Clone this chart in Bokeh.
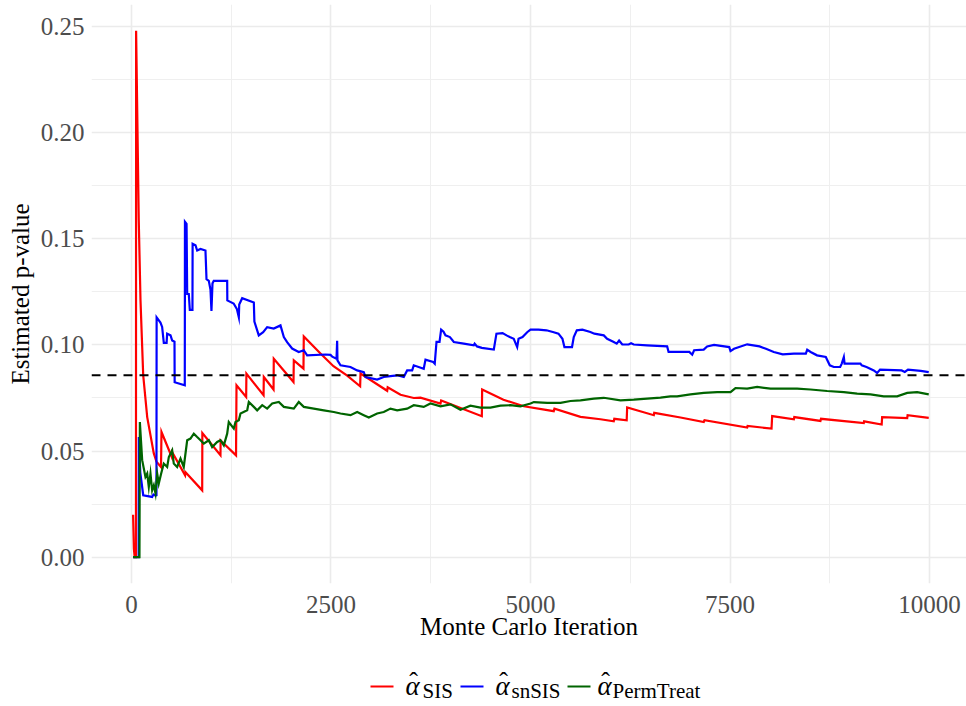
from bokeh.plotting import figure
from bokeh.models import Range1d, FixedTicker, NumeralTickFormatter, Span, Label
from bokeh.layouts import column
from bokeh.embed import file_html
from bokeh.resources import INLINE

# ---------------- data ----------------
sis_iter = [20, 30, 40, 56, 58, 91, 113, 147, 197, 279, 313, 370, 376, 505, 510, 672, 677, 886, 888,
            1115, 1117, 1310, 1316, 1437, 1440, 1655, 1658, 1780, 1783, 2030, 2034, 2155, 2159,
            2368, 2531, 2703, 2865, 2870, 3204, 3210, 3371, 3537, 3621, 3872, 3880, 4390, 4394,
            4661, 4916, 5291, 5300, 5626, 5876, 6043, 6050, 6205, 6211, 6545, 6550, 6879, 7171,
            7180, 7715, 7720, 8020, 8028, 8300, 8305, 8633, 8640, 9176, 9180, 9400, 9406, 9720,
            9725, 9990]
sis_val = [0.020, 0.004, 0.0, 0.0, 0.248, 0.159, 0.121, 0.0857, 0.066, 0.049, 0.045, 0.0425, 0.059,
           0.0472, 0.0495, 0.0386, 0.040, 0.0315, 0.0585, 0.048, 0.055, 0.048, 0.081, 0.0755, 0.0865,
           0.0763, 0.0849, 0.079, 0.0935, 0.0825, 0.0927, 0.0888, 0.104, 0.096, 0.090, 0.0855, 0.0805,
           0.0865, 0.0784, 0.0800, 0.0765, 0.0750, 0.0752, 0.0724, 0.0738, 0.0664, 0.079, 0.0742,
           0.0711, 0.0688, 0.0700, 0.0661, 0.0650, 0.0640, 0.0652, 0.0645, 0.0705, 0.0669, 0.0680,
           0.0658, 0.0637, 0.0645, 0.0611, 0.0618, 0.0606, 0.0665, 0.0650, 0.0660, 0.0642, 0.0652,
           0.0632, 0.0640, 0.0625, 0.0660, 0.0655, 0.0669, 0.0656]

snsis_iter = [20, 90, 92, 110, 147, 259, 275, 300, 313, 315, 363, 384, 405, 440, 447, 489, 510, 539,
              541, 593, 668, 670, 690, 698, 718, 731, 764, 766, 802, 823, 865, 927, 940, 969, 990,
              1002, 1015, 1031, 1199, 1201, 1280, 1320, 1345, 1350, 1387, 1533, 1540, 1595, 1650,
              1700, 1783, 1867, 1909, 1950, 2013, 2096, 2159, 2201, 2431, 2494, 2515, 2569, 2577,
              2581, 2619, 2744, 2828, 2911, 2932, 3078, 3161, 3245, 3329, 3412, 3454, 3517, 3537,
              3662, 3684, 3780, 3800, 3822, 3860, 3880, 3910, 3934, 3990, 4039, 4164, 4289, 4300,
              4330, 4390, 4540, 4573, 4650, 4700, 4740, 4790, 4833, 4850, 4900, 4958, 5000, 5100,
              5200, 5291, 5350, 5400, 5425, 5520, 5542, 5580, 5650, 5750, 5800, 5918, 5960, 6043,
              6080, 6110, 6150, 6230, 6260, 6294, 6460, 6712, 6730, 6879, 6990, 7026, 7050, 7170,
              7213, 7300, 7490, 7506, 7550, 7715, 7870, 7950, 8048, 8160, 8300, 8450, 8467, 8510,
              8590, 8700, 8750, 8800, 8880, 8900, 8926, 8935, 9134, 9150, 9210, 9301, 9343, 9380,
              9650, 9690, 9730, 9890, 9990]
snsis_val = [0.0, 0.0, 0.0566, 0.040, 0.0292, 0.0284, 0.0295, 0.029, 0.0292, 0.113, 0.1105, 0.1085,
             0.101, 0.101, 0.1053, 0.1045, 0.1021, 0.1015, 0.0824, 0.0818, 0.081, 0.158, 0.157, 0.124,
             0.124, 0.1165, 0.1165, 0.1477, 0.147, 0.1445, 0.1452, 0.1445, 0.131, 0.1302, 0.126,
             0.116, 0.129, 0.1302, 0.1302, 0.121, 0.1195, 0.117, 0.113, 0.119, 0.122, 0.120, 0.111,
             0.1045, 0.106, 0.1084, 0.1077, 0.1092, 0.1037, 0.1013, 0.0983, 0.0967, 0.0975, 0.0951,
             0.0955, 0.0953, 0.0945, 0.0935, 0.102, 0.0927, 0.0904, 0.0896, 0.088, 0.0872, 0.0849,
             0.0837, 0.0849, 0.0853, 0.0857, 0.0849, 0.088, 0.088, 0.0904, 0.0888, 0.0931, 0.092,
             0.0912, 0.1014, 0.1014, 0.1072, 0.1062, 0.1045, 0.1037, 0.1014, 0.1006, 0.0998, 0.1006,
             0.0993, 0.0986, 0.0978, 0.1053, 0.1056, 0.1045, 0.1037, 0.1029, 0.099, 0.1029, 0.1037,
             0.106, 0.1072, 0.1072, 0.1069, 0.106, 0.1053, 0.1029, 0.099, 0.099, 0.1037, 0.1069,
             0.1072, 0.1061, 0.1053, 0.1045, 0.1029, 0.1014, 0.1006, 0.1021, 0.1002, 0.1002, 0.1008,
             0.1002, 0.0998, 0.0993, 0.0967, 0.0967, 0.0967, 0.0954, 0.0975, 0.0978, 0.0993, 0.100,
             0.099, 0.0971, 0.0982, 0.1003, 0.0993, 0.0982, 0.0967, 0.0956, 0.0959, 0.0959, 0.0978,
             0.0967, 0.0951, 0.0943, 0.0904, 0.0896, 0.0896, 0.0912, 0.0943, 0.0912, 0.0912, 0.0904,
             0.0896, 0.088, 0.0868, 0.0884, 0.088, 0.0873, 0.0884, 0.0878, 0.0872]

perm_iter = [20, 100, 105, 134, 175, 197, 217, 238, 259, 280, 301, 322, 342, 372, 405, 447, 468, 510,
             530, 572, 614, 655, 698, 739, 781, 823, 865, 906, 969, 1011, 1074, 1115, 1157, 1199,
             1219, 1282, 1303, 1345, 1366, 1450, 1470, 1533, 1575, 1638, 1700, 1763, 1846, 1909,
             2034, 2096, 2159, 2284, 2410, 2535, 2619, 2744, 2828, 2911, 2974, 3078, 3161, 3245,
             3329, 3454, 3537, 3662, 3746, 3872, 3997, 4122, 4247, 4373, 4498, 4623, 4749, 4874,
             5000, 5042, 5209, 5376, 5501, 5626, 5793, 5918, 6127, 6294, 6461, 6628, 6753, 6837,
             7004, 7171, 7339, 7506, 7568, 7715, 7840, 8007, 8174, 8341, 8508, 8717, 8926, 9093,
             9260, 9426, 9594, 9720, 9845, 9990]
perm_val = [0.0, 0.0, 0.0637, 0.0457, 0.0378, 0.0394, 0.0331, 0.0394, 0.0315, 0.0339, 0.030, 0.0394,
            0.0347, 0.0394, 0.0441, 0.0425, 0.0472, 0.0504, 0.0441, 0.0425, 0.0465, 0.0425, 0.0551,
            0.0559, 0.0582, 0.0566, 0.0551, 0.0535, 0.0551, 0.0519, 0.0543, 0.0551, 0.0527, 0.0582,
            0.0637, 0.0606, 0.0637, 0.0645, 0.0677, 0.0692, 0.0731, 0.0708, 0.0692, 0.0716, 0.070,
            0.0724, 0.0731, 0.0708, 0.070, 0.0731, 0.0708, 0.070, 0.0692, 0.0684, 0.0677, 0.0669,
            0.0684, 0.0669, 0.0658, 0.0677, 0.0684, 0.070, 0.0692, 0.070, 0.0716, 0.0708, 0.0724,
            0.0711, 0.072, 0.0695, 0.0714, 0.0705, 0.0705, 0.0714, 0.0716, 0.0711, 0.0724, 0.0731,
            0.0727, 0.0727, 0.0736, 0.0739, 0.0747, 0.0751, 0.0739, 0.0742, 0.0747, 0.0752, 0.0758,
            0.0758, 0.0767, 0.0774, 0.0778, 0.0778, 0.0797, 0.0794, 0.0802, 0.0794, 0.0794, 0.0794,
            0.079, 0.0783, 0.0778, 0.0771, 0.0767, 0.0758, 0.0758, 0.0774, 0.0778, 0.0767]

true_p = 0.0857
x_ticks = [0, 2500, 5000, 7500, 10000]
x_minor = [1250, 3750, 6250, 8750]
y_ticks = [0.00, 0.05, 0.10, 0.15, 0.20, 0.25]
y_minor = [0.025, 0.075, 0.125, 0.175, 0.225]
series_names = ["SIS", "snSIS", "PermTreat"]
series_colors = ["#FF0000", "#0000FF", "#006400"]

# ---------------- main figure ----------------
W = 966
FRAME_LEFT = 91
p = figure(width=W, height=650, output_backend="svg", toolbar_location=None,
           x_range=Range1d(-501, 10463), y_range=Range1d(-0.0124, 0.2604),
           min_border_left=FRAME_LEFT, min_border_right=0, min_border_top=4, min_border_bottom=67)
p.outline_line_color = None
p.background_fill_color = "white"

for xs, ys, c in zip([sis_iter, snsis_iter, perm_iter], [sis_val, snsis_val, perm_val], series_colors):
    p.line(x=xs, y=ys, line_color=c, line_width=2.2, line_join="miter")

p.add_layout(Span(location=true_p, dimension="width", line_color="black",
                  line_dash="9 7", line_width=2))

p.xaxis.ticker = FixedTicker(ticks=x_ticks, minor_ticks=x_minor)
p.yaxis.ticker = FixedTicker(ticks=y_ticks, minor_ticks=y_minor)
p.xaxis.formatter = NumeralTickFormatter(format="0")
p.yaxis.formatter = NumeralTickFormatter(format="0.00")

for ax in (p.xaxis, p.yaxis):
    ax.axis_line_color = None
    ax.major_tick_line_color = None
    ax.minor_tick_line_color = None
    ax.major_tick_out = 0
    ax.major_tick_in = 0
    ax.minor_tick_out = 0
    ax.major_label_text_font = "Liberation Serif"
    ax.major_label_text_font_size = "25px"
    ax.major_label_text_color = "#4D4D4D"
    ax.axis_label_text_font = "Liberation Serif"
    ax.axis_label_text_font_size = "25px"
    ax.axis_label_text_font_style = "normal"
    ax.axis_label_text_color = "black"

p.xaxis.axis_label = "Monte Carlo Iteration"
p.yaxis.axis_label = "Estimated p-value"
p.xaxis.major_label_standoff = 12
p.yaxis.major_label_standoff = 7
p.xaxis.axis_label_standoff = -3
p.yaxis.axis_label_standoff = 4

p.xgrid.grid_line_color = "#EBEBEB"
p.ygrid.grid_line_color = "#EBEBEB"
p.xgrid.grid_line_width = 1.6
p.ygrid.grid_line_width = 1.6
p.xgrid.minor_grid_line_color = "#EFEFEF"
p.ygrid.minor_grid_line_color = "#EFEFEF"
p.xgrid.minor_grid_line_width = 1.0
p.ygrid.minor_grid_line_width = 1.0

# ---------------- legend strip (below); its x axis is page pixels ----------------
LH = 56
lg = figure(width=W, height=LH, output_backend="svg", toolbar_location=None,
            x_range=Range1d(FRAME_LEFT, W), y_range=Range1d(0, LH),
            min_border_left=FRAME_LEFT, min_border_right=0, min_border_top=0, min_border_bottom=0)
lg.outline_line_color = None
lg.grid.visible = False
lg.xaxis.visible = False
lg.yaxis.visible = False

key_x0 = [370, 460, 567]
alpha_x = [405, 495, 597]
sub_x = [422, 511, 612]
for x0, c in zip(key_x0, series_colors):
    lg.line(x=[x0, x0 + 23], y=[20, 20], line_color=c, line_width=2.2)
for i, nm in enumerate(series_names):
    lg.add_layout(Label(x=alpha_x[i], y=21, text="\u03b1", text_font="Liberation Serif",
                        text_font_style="italic", text_font_size="27px", text_color="black",
                        text_baseline="middle", text_align="left"))
    lg.add_layout(Label(x=alpha_x[i] + 8, y=25, text="\u02c6", text_font="Liberation Serif",
                        text_font_size="26px", text_color="black",
                        text_baseline="middle", text_align="center"))
    lg.add_layout(Label(x=sub_x[i], y=16, text=nm, text_font="Liberation Serif",
                        text_font_size="21px", text_color="black",
                        text_baseline="middle", text_align="left"))

layout = column(p, lg, spacing=0)
open("out.html", "w").write(file_html(layout, INLINE))
